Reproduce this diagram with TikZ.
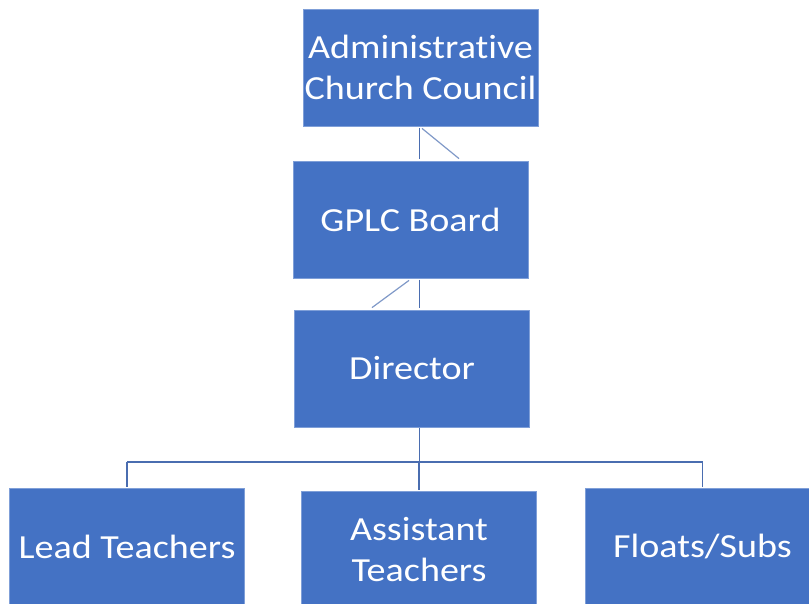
\documentclass[tikz,border=0pt]{standalone}
\usepackage{fontspec}
\setmainfont{Carlito}[FakeStretch=1.13, RawFeature={-liga;-dlig}]
\definecolor{boxfill}{HTML}{4472C4}
\definecolor{boxedge}{HTML}{7F9FD8}
\definecolor{linkcol}{HTML}{4A6DB0}
\tikzset{
  orgbox/.style={rectangle, fill=boxfill, draw=boxedge, line width=0.8pt,
    minimum width=235pt, minimum height=117pt, inner sep=0pt, align=center,
    text=white, font=\fontsize{33.7}{41}\selectfont},
  link/.style={draw=linkcol, line width=1.7pt},
  slant/.style={draw=linkcol!70, line width=1.2pt}
}
\begin{document}
\begin{tikzpicture}[x=1pt,y=-1pt]
\clip (0,0) rectangle (809,604);
\fill[white] (0,0) rectangle (809,604);
\node[orgbox] (admin) at (420.5,67.5) {Administrative\\Church Council};
\node[orgbox] (gplc) at (410.5,219.5) {GPLC Board};
\node[orgbox] (dir) at (412,368.5) {Director};
\node[orgbox] (lead) at (127,546.5) {Lead Teachers};
\node[orgbox] (asst) at (419,549.5) {Assistant\\Teachers};
\node[orgbox] (floats) at (702.5,546.5) {Floats/Subs};
\coordinate (bus) at (419.5,462);
% Admin -> GPLC
\draw[link] ([yshift=-1.5pt]admin.south -| bus) -- ([yshift=1.5pt]gplc.north -| bus);
\draw[slant] ([xshift=1.5pt,yshift=-2pt]admin.south) -- ([xshift=48.5pt,yshift=2pt]gplc.north);
% GPLC -> Director
\draw[link] ([yshift=-1.5pt]gplc.south -| bus) -- ([yshift=1.5pt]dir.north -| bus);
\draw[slant] ([xshift=-1.5pt,yshift=-2pt]gplc.south) -- ([xshift=-40pt,yshift=2pt]dir.north);
% Director -> staff
\draw[link] ([yshift=-1pt]dir.south -| bus) -- (bus);
\draw[link, line width=1.3pt] (bus -| lead.north) -- (bus -| floats.north);
\draw[link, line width=1.3pt] (bus -| lead.north) -- ([yshift=1pt]lead.north);
\draw[link, line width=1.3pt] (bus -| asst.north) -- ([yshift=1pt]asst.north);
\draw[link, line width=1.3pt] (bus -| floats.north) -- ([yshift=1pt]floats.north);
\end{tikzpicture}
\end{document}
